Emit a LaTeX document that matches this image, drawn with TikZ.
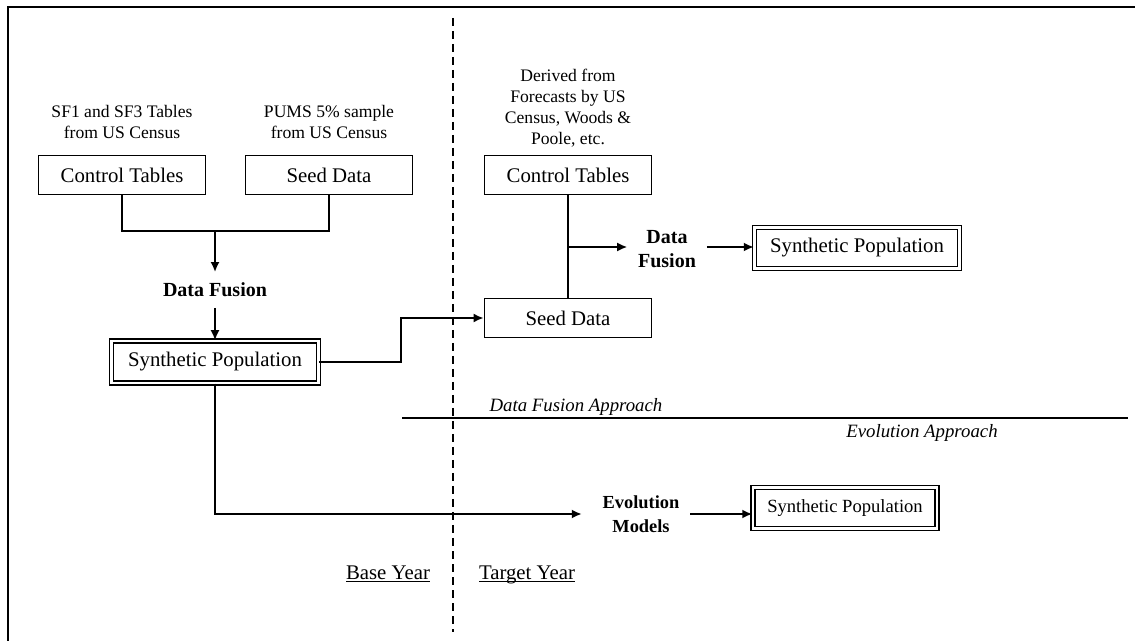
\documentclass[tikz,border=0pt]{standalone}
\usepackage{fontspec}
\setmainfont{Liberation Serif}
\usetikzlibrary{positioning,arrows.meta}

\begin{document}
\begin{tikzpicture}[x=0.5pt,y=-0.5pt
			,every path/.append style={line width=0.9pt}
			,box/.style={draw, minimum width=83.5pt, minimum height=19.5pt, inner sep=0pt, font=\fontsize{10.4}{12}\selectfont}
			,popbox/.style={box, double, line width=0.75pt, double distance=1.2pt}
			,src/.style={align=center, font=\fontsize{8.8}{10.5}\selectfont}
			,step label/.style={align=center, inner sep=5pt, font=\fontsize{10}{12}\selectfont\bfseries}
			,approach/.style={font=\fontsize{9.4}{11}\selectfont\itshape}
			,year/.style={anchor=base, font=\fontsize{10.4}{12}\selectfont}
			,arr/.style={-{Latex[length=5pt,width=4.5pt]}}
		]
			\useasboundingbox (0,0) rectangle (1135,641);
			\draw (8,641) -- (8,7) -- (1135,7);
			\draw[dashed, dash pattern=on 4pt off 2.5pt] (453,18) -- (453,632);

			% base year
			\node [src] (srcC) at (122,122) {SF1 and SF3 Tables\\from US Census};
			\node [src] (srcS) at (329,122) {PUMS 5\% sample\\from US Census};
			\node [box] (ctL) at (122,175) {Control Tables};
			\node [box] (sdL) at (329,175) {Seed Data};
			\node [step label] (fuseL) at (215,290) {Data Fusion};
			\node [popbox, minimum width=103.5pt, minimum height=21pt] (popL) at (215,362) {Synthetic Population};
			\coordinate (join) at (215,231);
			\draw (ctL.south) |- (join) -| (sdL.south);
			\draw [arr] (join) -- (fuseL.north);
			\draw [arr] (fuseL.south) -- (popL.north);

			% target year, data fusion
			\node [src] (srcR) at (568,108) {Derived from\\Forecasts by US\\Census, Woods \&\\Poole, etc.};
			\node [box] (ctR) at (568,175) {Control Tables};
			\node [box] (sdR) at (568,318) {Seed Data};
			\node [step label] (fuseR) at (667,249) {Data\\Fusion};
			\node [popbox, minimum width=102.5pt, minimum height=20.5pt] (popR) at (857,248) {Synthetic Population};
			\coordinate (tap) at (568,247);
			\draw (ctR.south) -- (sdR.north);
			\draw [arr] (tap) -- (fuseR.west |- tap);
			\draw [arr] (fuseR.east |- tap) -- (popR.west |- tap);
			\draw [arr] (popL.east) -- ++(82,0) |- (sdR.west);

			% approaches
			\draw (402,418) -- (1128,418);
			\node [approach] (dfa) at (576,407) {Data Fusion Approach};
			\node [approach] (eva) at (922,433) {Evolution Approach};

			% target year, evolution
			\node [step label, font=\fontsize{9.2}{12}\selectfont\bfseries] (evo) at (641,514) {Evolution\\Models};
			\node [popbox, minimum width=92pt, minimum height=20.5pt, font=\fontsize{9.3}{11}\selectfont] (popE) at (845,508) {Synthetic Population};
			\draw [arr, shorten >=5pt] (popL.south) |- (evo.west);
			\draw [arr] (evo.east) -- (popE.west |- evo.east);

			\node [year] (base) at (388,579) {\underline{\smash{Base Year}}};
			\node [year] (target) at (527,579) {\underline{\smash{Target Year}}};
		\end{tikzpicture}
\end{document}
